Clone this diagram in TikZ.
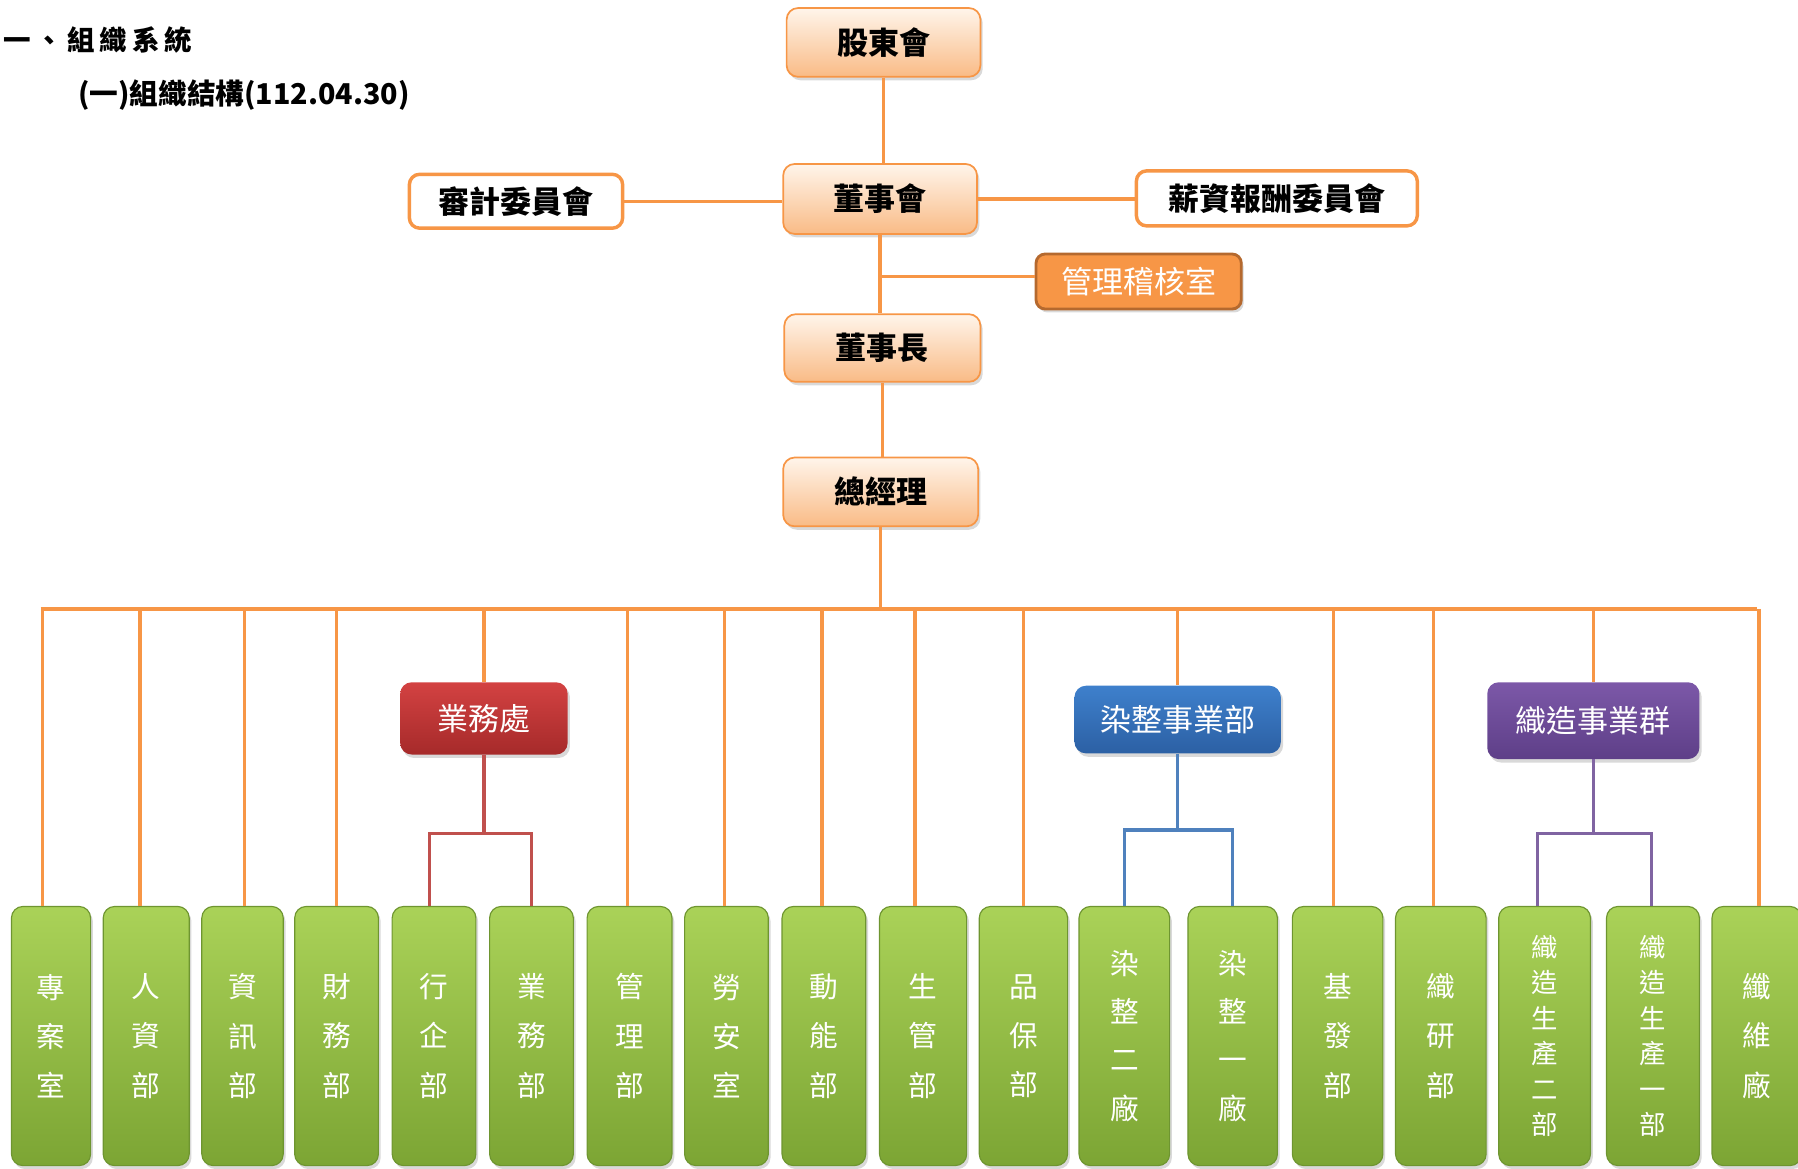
\documentclass[tikz,border=0pt]{standalone}
\usepackage{fontspec}
\newfontfamily\cjk{Noto Sans CJK TC}
\usetikzlibrary{shadows}
\definecolor{orln}{HTML}{F79646}
\definecolor{orbd}{HTML}{B5692E}
\definecolor{redln}{HTML}{C0504D}
\definecolor{blueln}{HTML}{4F81BD}
\definecolor{purln}{HTML}{8064A2}
\definecolor{grbd}{HTML}{6E9530}
\tikzset{
  conn/.style={line width=3pt},
  shd/.style={drop shadow={opacity=.3, shadow xshift=2pt, shadow yshift=-3pt}},
  topbox/.style={shd, draw=orln, line width=1.5pt, rounded corners=10pt, top color=orange!8!white, bottom color={rgb,255:red,249;green,187;blue,134}, inner sep=0pt, font=\cjk\bfseries\fontsize{27}{27}\selectfont, text=black},
  combox/.style={draw=orln, fill=white, line width=3pt, rounded corners=9pt, inner sep=0pt, font=\cjk\bfseries\fontsize{27}{27}\selectfont, text=black},
  audbox/.style={shd, draw=orbd, fill=orln, line width=2.5pt, rounded corners=8pt, inner sep=0pt, font=\cjk\fontsize{27}{27}\selectfont, text=white},
  midbox/.style={shd, rounded corners=10pt, inner sep=0pt, font=\cjk\fontsize{27}{27}\selectfont, text=white},
  leaf/.style={shd, draw=grbd, line width=1pt, rounded corners=10pt, top color={rgb,255:red,170;green,210;blue,88}, bottom color={rgb,255:red,124;green,165;blue,52}, inner sep=0pt, minimum height=226pt, align=center, text=white, anchor=north, font=\cjk\fontsize{25}{43}\selectfont},
  leaffour/.style={leaf, font=\cjk\fontsize{25}{42}\selectfont},
  leafsix/.style={leaf, font=\cjk\fontsize{23}{31}\selectfont},
}
\begin{document}
\begin{tikzpicture}[x=1pt,y=-1pt]
\useasboundingbox (0,0) rectangle (1568,1019);
% titles
\node[anchor=west, inner sep=0pt, font=\cjk\bfseries\fontsize{24}{24}\selectfont] (t1) at (3,35) {一\hspace{4pt}、\hspace{4pt}組\hspace{4pt}織\hspace{4pt}系\hspace{4pt}統};
\node[anchor=west, inner sep=0pt, font=\cjk\bfseries\fontsize{25}{25}\selectfont] (t2) at (68,83) {(一)組織結構(112.04.30)};
% upper chain
\node[topbox, minimum width=169pt, minimum height=60pt] (sh) at (770.5,37) {股東會};
\node[topbox, minimum width=169pt, minimum height=61pt] (bd) at (767.5,173.5) {董事會};
\node[combox, minimum width=186pt, minimum height=47pt] (aud) at (450,175.5) {審計委員會};
\node[combox, minimum width=245pt, minimum height=48pt] (pay) at (1113.5,173) {薪資報酬委員會};
\node[audbox, minimum width=179pt, minimum height=48pt] (ia) at (993,245.5) {管理稽核室};
\node[topbox, minimum width=171pt, minimum height=59pt] (ch) at (769.5,303.5) {董事長};
\node[topbox, minimum width=170pt, minimum height=60pt] (gm) at (768,429) {總經理};
% middle groups
\node[midbox, top color={rgb,255:red,211;green,66;blue,66}, bottom color={rgb,255:red,166;green,42;blue,42}, minimum width=146pt, minimum height=63pt] (sales) at (422,626.5) {業務處};
\node[midbox, top color={rgb,255:red,62;green,128;blue,204}, bottom color={rgb,255:red,44;green,96;blue,164}, minimum width=180pt, minimum height=59pt] (dye) at (1027,627.5) {染整事業部};
\node[midbox, top color={rgb,255:red,124;green,88;blue,168}, bottom color={rgb,255:red,94;green,63;blue,136}, minimum width=185pt, minimum height=67pt] (weave) at (1389.5,628.5) {織造事業群};
% leaves
\node[leaf, minimum width=69pt] (l1) at (44.5,790) {專\\案\\室};
\node[leaf, minimum width=75pt] (l2) at (127.5,790) {人\\資\\部};
\node[leaf, minimum width=71pt] (l3) at (211.5,790) {資\\訊\\部};
\node[leaf, minimum width=73pt] (l4) at (293.5,790) {財\\務\\部};
\node[leaf, minimum width=73pt] (l5) at (378.5,790) {行\\企\\部};
\node[leaf, minimum width=73pt] (l6) at (463.5,790) {業\\務\\部};
\node[leaf, minimum width=74pt] (l7) at (549,790) {管\\理\\部};
\node[leaf, minimum width=73pt] (l8) at (633.5,790) {勞\\安\\室};
\node[leaf, minimum width=73pt] (l9) at (718.5,790) {動\\能\\部};
\node[leaf, minimum width=76pt] (l10) at (805,790) {生\\管\\部};
\node[leaf, minimum width=77pt] (l11) at (892.5,790) {品\\保\\部};
\node[leaffour, minimum width=79pt] (l12) at (980.5,790) {染\\整\\二\\廠};
\node[leaffour, minimum width=78pt] (l13) at (1075,790) {染\\整\\一\\廠};
\node[leaf, minimum width=79pt] (l14) at (1166.5,790) {基\\發\\部};
\node[leaf, minimum width=79pt] (l15) at (1256.5,790) {織\\研\\部};
\node[leafsix, minimum width=80pt] (l16) at (1347,790) {織\\造\\生\\產\\二\\部};
\node[leafsix, minimum width=81pt] (l17) at (1441.5,790) {織\\造\\生\\產\\一\\部};
\node[leaf, minimum width=78pt] (l18) at (1532,790) {纖\\維\\廠};
% connectors upper
\coordinate (iaj) at (767,241);
\coordinate (bus) at (768,531);
\draw[conn, orln] (sh.south) -- (sh.south |- bd.north);
\draw[conn, orln] (aud.east) -- (aud.east -| bd.west);
\draw[conn, orln] (bd.east) -- (bd.east -| pay.west);
\draw[conn, orln] (bd.south) -- (bd.south |- ch.north);
\draw[conn, orln] (iaj) -- (iaj -| ia.west);
\draw[conn, orln] (ch.south) -- (ch.south |- gm.north);
\draw[conn, orln] (gm.south) -- (gm.south |- bus);
\draw[conn, orln] ([xshift=-9pt]l1.north |- bus) -- (l18.north |- bus);
\foreach \n/\dx in {l1/-7.5,l2/-5.5,l3/1.5,l4/0,l7/-2,l8/-1.5,l9/-1.5,l10/-7,l11/0,l14/-3.5,l15/-6.5,l18/2}
  \draw[conn, orln] ([xshift=\dx pt]\n.north |- bus) -- ([xshift=\dx pt]\n.north);
\draw[conn, orln] (sales.north |- bus) -- (sales.north);
\draw[conn, orln] (dye.north |- bus) -- (dye.north);
\draw[conn, orln] (weave.north |- bus) -- (weave.north);
% group connectors
\coordinate (sj) at (420,727);
\coordinate (dj) at (1027,724);
\coordinate (wj) at (1390,727);
\draw[conn, redln] (sales.south) -- (sales.south |- sj);
\draw[conn, redln] ([xshift=-4pt]l5.north) |- (sj) -| (l6.north);
\draw[conn, blueln] (dye.south) -- (dj);
\draw[conn, blueln] (l12.north) |- (dj) -| (l13.north);
\draw[conn, purln] (weave.south) -- (weave.south |- wj);
\draw[conn, purln] ([xshift=-6pt]l16.north) |- (wj) -| ([xshift=-1.5pt]l17.north);
\end{tikzpicture}
\end{document}
